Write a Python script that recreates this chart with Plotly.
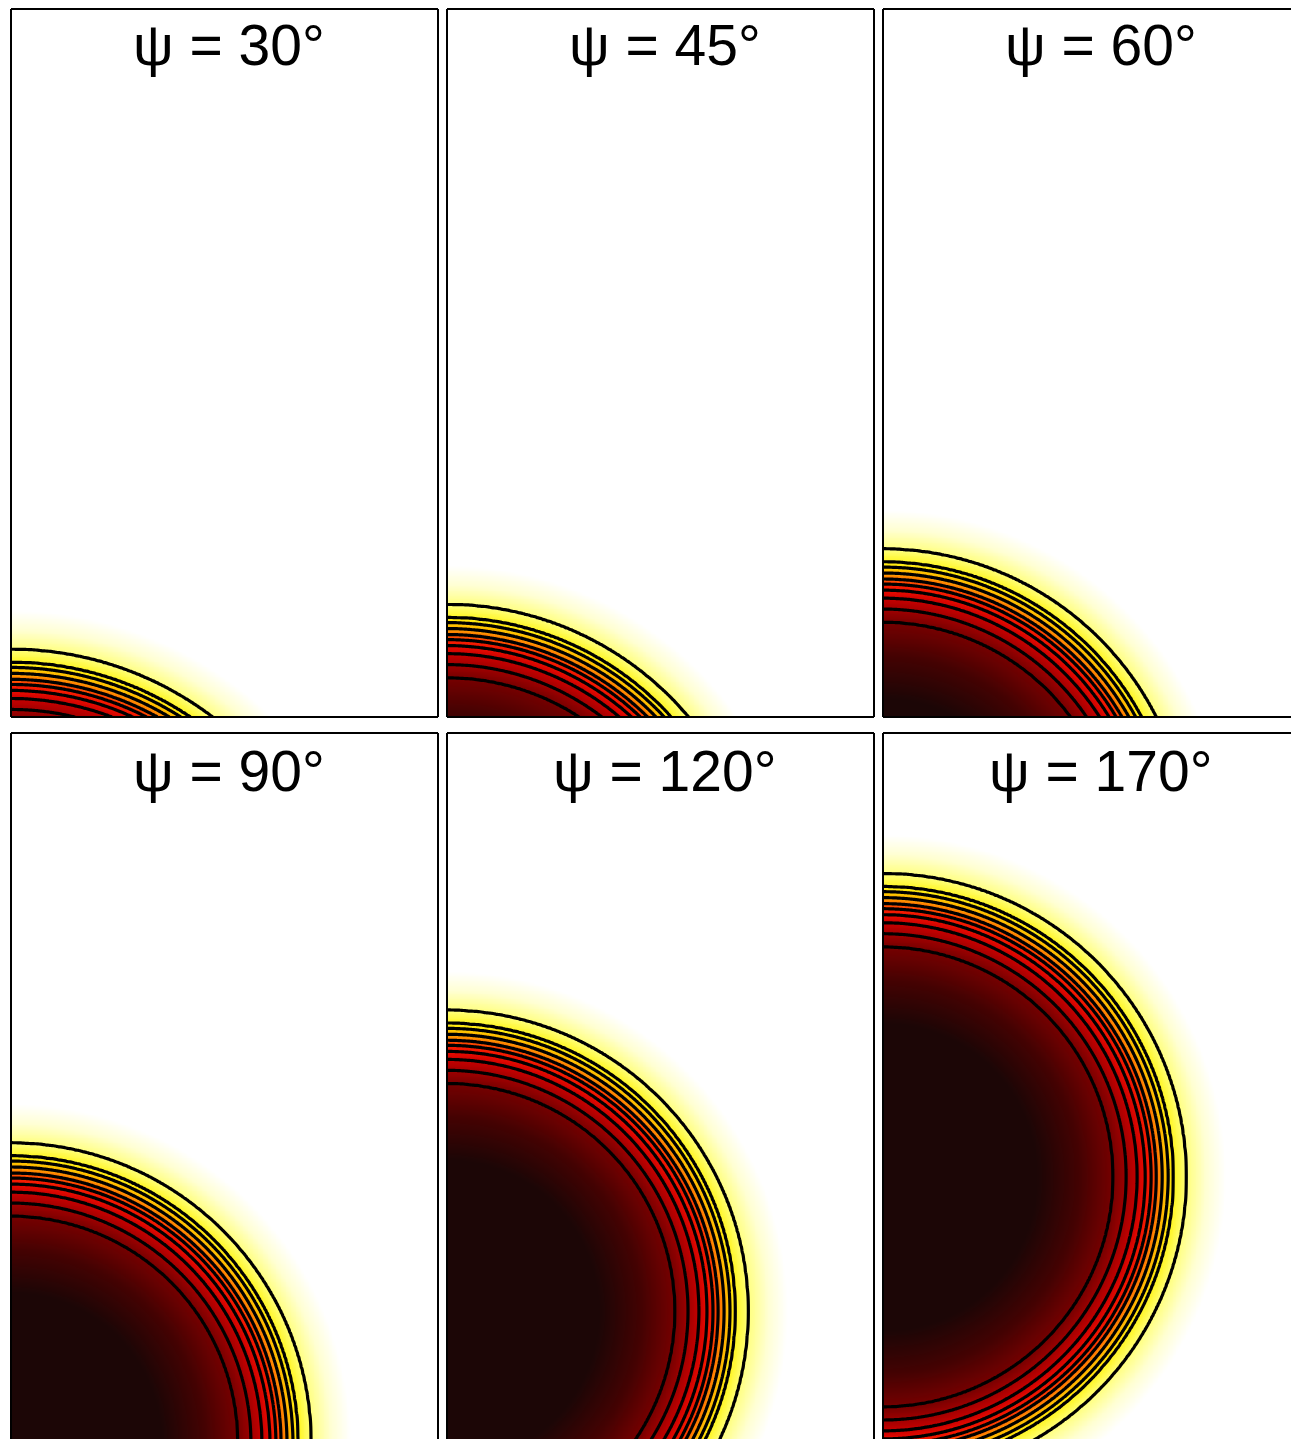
import numpy as np
import plotly.graph_objects as go

PAGE_W, PAGE_H = 1299, 1439
BODY = 8  # default body margin of the html page
W, H = PAGE_W - BODY, PAGE_H - BODY
PX = 711.67  # pixels per length unit (same both ways)

# contact angle of each panel, outer contour radius and centre height of the cap
psi_deg = [30, 45, 60, 90, 120, 170]
outer_radius = [0.469, 0.443, 0.430, 0.4215, 0.423, 0.426]
center_z = [-0.374, -0.285, -0.194, 0.0, 0.185, 0.374]

# radial profile across the interface (depth measured inward from the outer contour)
profile_depth = [-0.055, 0.0, 0.0183, 0.0253, 0.0337, 0.0422, 0.0492,
                 0.0576, 0.0689, 0.0843, 0.1026, 0.15, 0.21]
profile_value = [0.0, 0.10, 0.18, 0.26, 0.34, 0.42, 0.50,
                 0.58, 0.66, 0.74, 0.82, 0.91, 1.0]

colorscale = [
    [0.00, "rgb(255,255,255)"],
    [0.05, "rgb(255,255,210)"],
    [0.10, "rgb(255,255,125)"],
    [0.18, "rgb(255,245,30)"],
    [0.26, "rgb(255,212,0)"],
    [0.34, "rgb(255,165,0)"],
    [0.42, "rgb(255,100,0)"],
    [0.50, "rgb(250,35,0)"],
    [0.58, "rgb(235,12,0)"],
    [0.66, "rgb(200,0,0)"],
    [0.74, "rgb(160,0,0)"],
    [0.82, "rgb(118,0,0)"],
    [0.91, "rgb(68,2,2)"],
    [1.00, "rgb(28,6,6)"],
]

# panel geometry in page pixels
col_left = [11, 447, 883]
row_top = [7, 733]
panel_w, panel_h = 427, 710

xs = np.linspace(0, panel_w / PX, 260)
zs = np.linspace(0, panel_h / PX, 430)
XX, ZZ = np.meshgrid(xs, zs)

fig = go.Figure()
shapes = []
annotations = []


def px_x(p):
    return (p - BODY) / W


def px_y(p):
    return 1 - (p - BODY) / H


for i, psi in enumerate(psi_deg):
    row, col = divmod(i, 3)
    left = col_left[col]
    top = max(row_top[row], BODY + 1)
    right = min(left + panel_w, PAGE_W)
    bottom = min(row_top[row] + panel_h, PAGE_H)
    ax = "" if i == 0 else str(i + 1)

    r = np.sqrt(XX ** 2 + (ZZ - center_z[i]) ** 2)
    depth = outer_radius[i] - r
    field = np.interp(depth, profile_depth, profile_value)

    fig.add_trace(go.Contour(
        x=xs, y=zs, z=field,
        xaxis="x" + ax, yaxis="y" + ax,
        colorscale=colorscale, zmin=0, zmax=1,
        contours=dict(start=0.10, end=0.82, size=0.08, coloring="heatmap"),
        line=dict(color="black", width=3.2, smoothing=1),
        showscale=False, hoverinfo="skip",
    ))

    fig.update_layout(**{
        "xaxis" + ax: dict(domain=[px_x(left), px_x(right)],
                           range=[0, (right - left) / PX],
                           visible=False, anchor="y" + ax),
        "yaxis" + ax: dict(domain=[px_y(bottom), px_y(top)],
                           range=[(row_top[row] + panel_h - bottom) / PX,
                                  (row_top[row] + panel_h - top) / PX],
                           visible=False, anchor="x" + ax),
    })

    # frame (edges that fall outside the page are left out)
    line = dict(color="black", width=2)
    shapes.append(dict(type="line", xref="paper", yref="paper", layer="above",
                       x0=px_x(left), x1=px_x(left), y0=px_y(bottom), y1=px_y(top), line=line))
    shapes.append(dict(type="line", xref="paper", yref="paper", layer="above",
                       x0=px_x(left), x1=px_x(right), y0=px_y(top), y1=px_y(top), line=line))
    if row_top[row] + panel_h <= PAGE_H:
        shapes.append(dict(type="line", xref="paper", yref="paper", layer="above",
                           x0=px_x(left), x1=px_x(right), y0=px_y(bottom), y1=px_y(bottom), line=line))
    if left + panel_w <= PAGE_W:
        shapes.append(dict(type="line", xref="paper", yref="paper", layer="above",
                           x0=px_x(right), x1=px_x(right), y0=px_y(bottom), y1=px_y(top), line=line))

    annotations.append(dict(
        text=f"ψ = {psi}°", xref="paper", yref="paper",
        x=px_x(left + panel_w / 2 + 4), y=px_y(row_top[row] + 38),
        xanchor="center", yanchor="middle", showarrow=False,
        font=dict(family="Liberation Sans, Arial, sans-serif", size=57, color="black"),
    ))

fig.update_layout(
    width=W, height=H,
    margin=dict(l=0, r=0, t=0, b=0),
    plot_bgcolor="white", paper_bgcolor="white",
    shapes=shapes, annotations=annotations,
    showlegend=False,
)

fig.write_html("out.html")
